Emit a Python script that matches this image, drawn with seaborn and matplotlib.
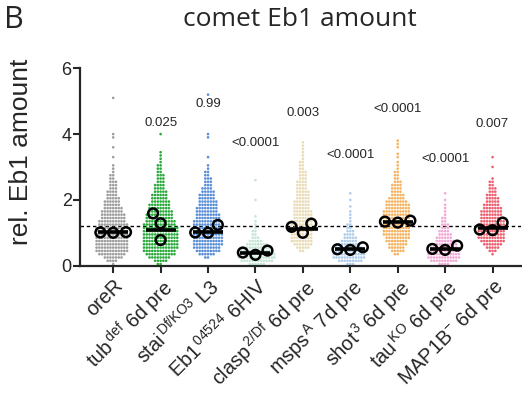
import warnings
warnings.filterwarnings("ignore")
import numpy as np
import pandas as pd
import matplotlib
matplotlib.use("Agg")
import matplotlib.pyplot as plt
import seaborn as sns

# ---------------- data ----------------
groups = ["oreR", "tub", "stai", "Eb1", "clasp", "msps", "shot", "tau", "MAP1B"]
tick_labels = [
    "oreR",
    r"tub$^{\,\mathrm{def}}$ 6d pre",
    r"stai$^{\,\mathrm{Df/KO3}}$ L3",
    r"Eb1$^{\,\mathrm{04524}}$ 6HIV",
    r"clasp$^{\,\mathrm{2/Df}}$ 6d pre",
    r"msps$^{\,\mathrm{A}}$ 7d pre",
    r"shot$^{\,\mathrm{3}}$ 6d pre",
    r"tau$^{\,\mathrm{KO}}$ 6d pre",
    r"MAP1B$^{\mathrm{-}}$ 6d pre",
]
colors = ["#9e9e9e", "#2aab3c", "#5b8fd8", "#c6e6d6", "#eadcb8",
          "#b0cdec", "#f6b463", "#f2aad6", "#ef6070"]

# per-cell values: counts per 0.1-wide level, starting at *_start, plus single outliers
oreR_start, oreR_counts = 0.0, [1, 4, 7, 10, 12, 12, 12, 12, 12, 12, 12, 12, 11, 10, 9, 9, 8, 7, 6, 6,
                               5, 4, 4, 3, 3, 3, 2, 2, 1, 1, 1]
oreR_extra = [3.3, 3.6, 3.9, 4.0, 5.1]
tub_start, tub_counts = 0.0, [2, 5, 8, 11, 12, 13, 13, 13, 13, 13, 13, 13, 12, 11, 10, 10, 9, 8, 8, 7,
                             6, 6, 5, 4, 4, 3, 3, 3, 2, 2, 2, 1, 1, 1, 1]
tub_extra = [4.0]
stai_start, stai_counts = 0.2, [2, 6, 9, 10, 11, 11, 11, 11, 11, 11, 10, 10, 9, 9, 8, 8, 7, 7,
                               6, 6, 5, 4, 3, 3, 3, 2, 2, 1, 1]
stai_extra = [3.3, 3.9, 4.0, 5.2]
eb1_start, eb1_counts = 0.0, [6, 12, 14, 14, 13, 11, 8, 5, 3, 2, 2, 1, 1, 1]
eb1_extra = [1.5, 2.0, 2.6]
clasp_start, clasp_counts = 0.4, [2, 5, 7, 8, 8, 8, 8, 8, 8, 8, 7, 7, 7, 6, 6, 6, 5, 5, 5, 4, 4, 4,
                                 3, 3, 3, 2, 2, 2, 1, 1, 1, 1, 1, 1]
clasp_extra = []
msps_start, msps_counts = 0.0, [3, 9, 12, 12, 11, 10, 8, 6, 5, 4, 3, 2, 2, 1, 1, 1, 1]
msps_extra = [1.8, 2.0, 2.2]
shot_start, shot_counts = 0.3, [2, 5, 6, 7, 8, 9, 10, 10, 10, 10, 10, 10, 10, 10, 9, 9, 8, 6, 5, 4,
                               4, 4, 3, 2, 2, 2, 1, 1, 1]
shot_extra = [3.3, 3.4, 3.6, 3.7, 3.8]
tau_start, tau_counts = 0.0, [4, 10, 12, 12, 11, 10, 9, 7, 6, 5, 4, 3, 3, 2, 2, 1, 1, 1, 1]
tau_extra = [2.0, 2.2]
map1b_start, map1b_counts = 0.3, [1, 3, 5, 7, 9, 10, 10, 10, 10, 10, 9, 9, 8, 8, 7, 6, 5, 5, 4, 3,
                                 3, 2, 2, 1]
map1b_extra = [3.0, 3.3]

# replicate means (open circles) and summary line
rep_values = {
    "oreR": [1.0, 1.01, 1.02], "tub": [1.59, 1.29, 0.78], "stai": [1.24, 1.0, 1.01],
    "Eb1": [0.33, 0.46, 0.40], "clasp": [1.28, 1.0, 1.18], "msps": [0.50, 0.56, 0.48],
    "shot": [1.31, 1.37, 1.34], "tau": [0.48, 0.61, 0.51], "MAP1B": [1.10, 1.31, 1.08],
}
line_values = [1.02, 1.08, 1.02, 0.40, 1.12, 0.52, 1.34, 0.52, 1.14]
p_texts = [None, "0.025", "0.99", "<0.0001", "0.003", "<0.0001", "<0.0001", "<0.0001", "0.007"]
p_y = [None, 4.33, 4.9, 3.72, 4.63, 3.37, 4.76, 3.23, 4.31]
ref_level = 1.2

# ---------------- build tables ----------------
per_group = {
    "oreR": (oreR_start, oreR_counts, oreR_extra), "tub": (tub_start, tub_counts, tub_extra),
    "stai": (stai_start, stai_counts, stai_extra), "Eb1": (eb1_start, eb1_counts, eb1_extra),
    "clasp": (clasp_start, clasp_counts, clasp_extra), "msps": (msps_start, msps_counts, msps_extra),
    "shot": (shot_start, shot_counts, shot_extra), "tau": (tau_start, tau_counts, tau_extra),
    "MAP1B": (map1b_start, map1b_counts, map1b_extra),
}
rows = []
for g in groups:
    start, counts, extra = per_group[g]
    for i, c in enumerate(counts):
        v = round(start + 0.1 * i + 0.05, 3)
        rows += [(g, v)] * c
    rows += [(g, v) for v in extra]
cells = pd.DataFrame(rows, columns=["group", "value"])
reps = pd.DataFrame([(g, v) for g in groups for v in rep_values[g]], columns=["group", "value"])
lines = pd.DataFrame({"group": groups, "value": line_values})

# ---------------- style ----------------
sns.set_theme(style="ticks")
plt.rcParams["font.family"] = ["Liberation Sans", "DejaVu Sans"]
plt.rcParams["mathtext.fontset"] = "custom"
plt.rcParams["mathtext.rm"] = "Liberation Sans"
plt.rcParams["mathtext.it"] = "Liberation Sans:italic"
plt.rcParams["mathtext.bf"] = "Liberation Sans:bold"

fig = plt.figure(figsize=(5.22, 3.95), dpi=100)
ax = fig.add_axes([80 / 522, 1 - 265.7 / 395, 441 / 522, 197.4 / 395])

ax.axhline(ref_level, color="black", lw=1.0, ls=(0, (2.5, 2)), zorder=1)

sns.swarmplot(data=cells, x="group", y="value", hue="group", order=groups,
              palette=dict(zip(groups, colors)), size=1.9, linewidth=0,
              legend=False, ax=ax, zorder=2)

sns.pointplot(data=lines, x="group", y="value", order=groups, errorbar=None,
              linestyle="none", marker="_", markersize=22, markeredgewidth=2.6,
              color="black", ax=ax, zorder=3)

n_before = len(ax.collections)
sns.swarmplot(data=reps, x="group", y="value", order=groups, color="white",
              size=7.0, ax=ax, zorder=4)
for coll in ax.collections[n_before:]:
    coll.set_facecolor("none")
    coll.set_edgecolor("black")
    coll.set_linewidth(1.8)
    coll.set_zorder(4)

for i, (t, y) in enumerate(zip(p_texts, p_y)):
    if t:
        ax.text(i, y, t, ha="center", va="center", fontsize=9.5)

ax.set_ylim(0, 6)
ax.set_xlim(-0.7, 8.6)
ax.set_yticks([0, 2, 4, 6])
ax.set_xticks(range(len(groups)))
ax.set_xticklabels(tick_labels, rotation=45, ha="right", rotation_mode="anchor", fontsize=14.3)
ax.tick_params(axis="y", labelsize=13, width=1.5, length=5, pad=1)
ax.tick_params(axis="x", width=1.5, length=5, pad=2)
ax.set_xlabel("")
ax.set_ylabel("")
for s in ["top", "right"]:
    ax.spines[s].set_visible(False)
for s in ["left", "bottom"]:
    ax.spines[s].set_linewidth(1.6)

fig.text(21 / 522, 1 - 152 / 395, "rel. Eb1 amount", rotation=90, ha="center", va="center",
         fontsize=19)
fig.text(300 / 522, 1 - 20 / 395, "comet Eb1 amount", ha="center", va="center",
         fontsize=19, family=["Open Sans", "DejaVu Sans"])
fig.text(4 / 522, 1 - 20 / 395, "B", ha="left", va="center", fontsize=22,
         family=["Open Sans", "DejaVu Sans"])

fig.savefig("out.png", dpi=100)
